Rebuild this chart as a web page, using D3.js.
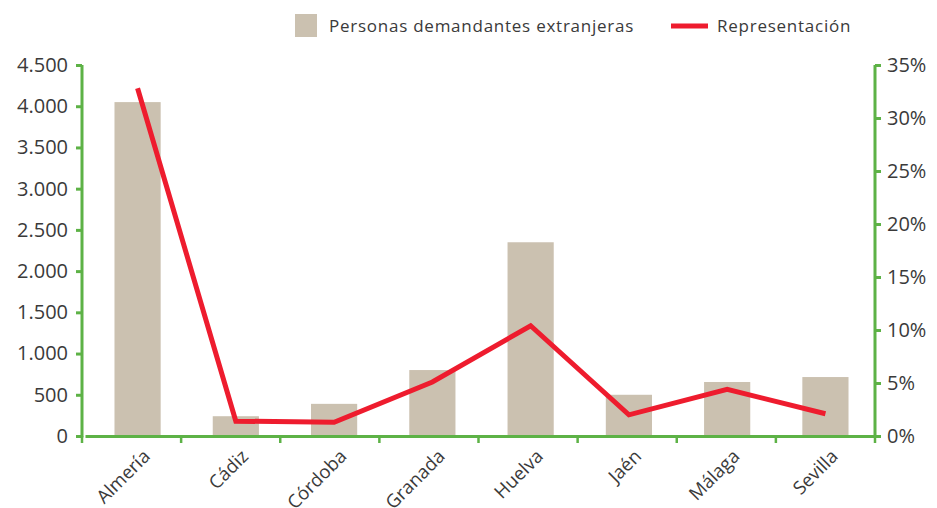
<!DOCTYPE html>
<html>
<head>
<meta charset="utf-8">
<script src="https://cdn.jsdelivr.net/npm/d3@7"></script>
<style>
  body { margin: 0; background: #fff; }
  text { font-family: "Open Sans", Lato, sans-serif; fill: #3a3a3a; }
</style>
</head>
<body>
<script>
var provincias = ["Almería", "Cádiz", "Córdoba", "Granada", "Huelva", "Jaén", "Málaga", "Sevilla"];
var demandantes = [4050, 240, 390, 800, 2350, 500, 655, 715];
var representacion = [0.328, 0.014, 0.013, 0.051, 0.104, 0.020, 0.044, 0.021];
var leftTicks = [0, 500, 1000, 1500, 2000, 2500, 3000, 3500, 4000, 4500];
var rightTicks = [0, 0.05, 0.10, 0.15, 0.20, 0.25, 0.30, 0.35];

var w = 937, h = 508;
var x0 = 82, x1 = 875, yTop = 65, yBottom = 436;
var green = "#5db246";

var svg = d3.select("body").append("svg")
    .attr("width", w)
    .attr("height", h);

var xScale = d3.scaleBand()
    .domain(provincias)
    .range([x0 + 3, x1 + 3])
    .paddingInner(0.53)
    .paddingOuter(0.3);

var yLeft = d3.scaleLinear().domain([0, 4500]).range([yBottom, yTop]);
var yRight = d3.scaleLinear().domain([0, 0.35]).range([yBottom, yTop]);

// bars
svg.selectAll("rect.bar")
    .data(demandantes)
    .enter()
    .append("rect")
    .attr("class", "bar")
    .attr("x", function(d, i) { return xScale(provincias[i]); })
    .attr("y", function(d) { return yLeft(d); })
    .attr("width", xScale.bandwidth())
    .attr("height", function(d) { return yBottom - yLeft(d); })
    .attr("fill", "#cbc1b0");

// axes
var axisL = svg.append("g")
    .attr("transform", "translate(" + x0 + ",0)")
    .call(d3.axisLeft(yLeft).tickValues(leftTicks).tickSize(6).tickPadding(8)
        .tickFormat(function(d) { return d3.format(",")(d).replace(",", "."); }));

var axisR = svg.append("g")
    .attr("transform", "translate(" + x1 + ",0)")
    .call(d3.axisRight(yRight).tickValues(rightTicks).tickSize(6).tickPadding(6)
        .tickFormat(function(d) { return Math.round(d * 100) + "%"; }));

var bandStep = (x1 - x0) / provincias.length;
var xAxis = svg.append("g")
    .attr("transform", "translate(0," + yBottom + ")")
    .call(d3.axisBottom(xScale).tickSize(0).tickPadding(10));

xAxis.selectAll(".tick text")
    .attr("text-anchor", "end")
    .attr("x", 0)
    .attr("y", 0)
    .attr("dy", "0.35em")
    .attr("transform", "translate(9,17) rotate(-45)")
    .style("font-size", "18.5px");

// band boundary ticks on the category axis
xAxis.selectAll("line.bound")
    .data(d3.range(provincias.length + 1))
    .enter()
    .append("line")
    .attr("class", "bound")
    .attr("x1", function(i) { return x0 + i * bandStep; })
    .attr("x2", function(i) { return x0 + i * bandStep; })
    .attr("y1", 0)
    .attr("y2", 7)
    .attr("stroke", green)
    .attr("stroke-width", 2.5);

[axisL, axisR, xAxis].forEach(function(a) {
    a.select(".domain").attr("stroke", green).attr("stroke-width", 3);
    a.selectAll(".tick line").attr("stroke", green).attr("stroke-width", 3);
});
axisL.selectAll(".tick text").style("font-size", "20px").style("fill", "#3a3a3a");
axisR.selectAll(".tick text").style("font-size", "20px").style("fill", "#3a3a3a");
xAxis.selectAll(".tick text").style("fill", "#3a3a3a");
axisL.select(".domain").attr("d", "M0," + yTop + "V" + (yBottom + 1.5));
axisR.select(".domain").attr("d", "M0," + yTop + "V" + (yBottom + 1.5));

// line
var line = d3.line()
    .x(function(d, i) { return xScale(provincias[i]) + xScale.bandwidth() / 2; })
    .y(function(d) { return yRight(d); });

svg.append("path")
    .datum(representacion)
    .attr("d", line)
    .attr("fill", "none")
    .attr("stroke", "#ee1c2e")
    .attr("stroke-width", 5);

// legend
var legend = svg.append("g").style("font-size", "17px").style("letter-spacing", "0.75px");
legend.append("rect")
    .attr("x", 295).attr("y", 14)
    .attr("width", 22).attr("height", 23)
    .attr("fill", "#cbc1b0");
legend.append("text")
    .attr("x", 329).attr("y", 32)
    .text("Personas demandantes extranjeras");
legend.append("line")
    .attr("x1", 671).attr("x2", 708)
    .attr("y1", 26).attr("y2", 26)
    .attr("stroke", "#ee1c2e")
    .attr("stroke-width", 5);
legend.append("text")
    .attr("x", 717).attr("y", 32)
    .text("Representación");
</script>
</body>
</html>
